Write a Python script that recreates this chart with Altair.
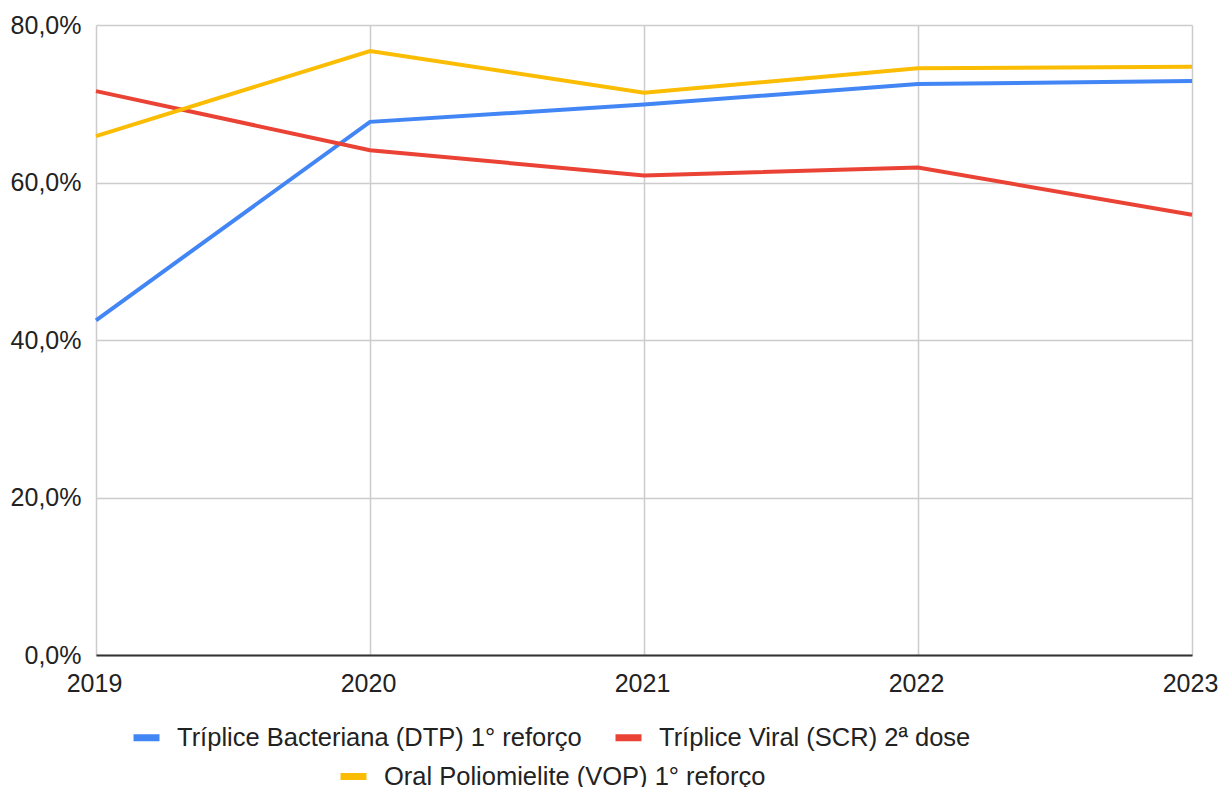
import altair as alt
import pandas as pd

years = [2019, 2020, 2021, 2022, 2023]
dtp = [42.5, 67.7, 69.9, 72.5, 72.9]
scr = [71.6, 64.1, 60.9, 61.9, 55.9]
vop = [65.9, 76.7, 71.4, 74.5, 74.7]
series_names = [
    "Tríplice Bacteriana (DTP) 1° reforço",
    "Tríplice Viral (SCR) 2ª dose",
    "Oral Poliomielite (VOP) 1° reforço",
]
colors = ["#4285F4", "#EA4335", "#FBBC04"]
y_ticks = [0, 20, 40, 60, 80]

rows = []
for name, vals in zip(series_names, [dtp, scr, vop]):
    for yr, v in zip(years, vals):
        rows.append({"ano": yr, "valor": v, "serie": name})
df = pd.DataFrame(rows)

FONT = "Liberation Sans"

x_enc = alt.X(
    "ano:Q",
    scale=alt.Scale(domain=[2019, 2023], nice=False, zero=False),
    axis=alt.Axis(values=years, format="d", title=None, grid=True, ticks=False,
                  domain=True, domainColor="#333333", domainWidth=2,
                  labelPadding=16, labelFlush=False, labelOverlap=False,
                  labelOffset=-2),
)
y_enc = alt.Y(
    "valor:Q",
    scale=alt.Scale(domain=[0, 80], nice=False),
    axis=alt.Axis(values=y_ticks, title=None, grid=True, ticks=False, domain=False,
                  labelPadding=15,
                  labelExpr="replace(format(datum.value, '.1f'), '.', ',') + '%'"),
)

def legend(x, y):
    return alt.Legend(
        orient="none", legendX=x, legendY=y, direction="horizontal", title=None,
        symbolType="stroke", symbolStrokeWidth=7, symbolSize=676,
        labelFont=FONT, labelFontSize=25.5, labelColor="#222222", labelOffset=14,
        columnPadding=19, labelLimit=1000,
    )

layer_a = alt.Chart(df).transform_filter(
    alt.FieldOneOfPredicate(field="serie", oneOf=series_names[:2])
).mark_line(strokeWidth=4).encode(
    x=x_enc, y=y_enc,
    color=alt.Color("serie:N", scale=alt.Scale(domain=series_names[:2], range=colors[:2]),
                    legend=legend(34, 696)),
    order=alt.Order("ano:Q"),
)

layer_b = alt.Chart(df).transform_filter(
    alt.FieldEqualPredicate(field="serie", equal=series_names[2])
).mark_line(strokeWidth=4).encode(
    x=x_enc, y=y_enc,
    color=alt.Color("serie:N", scale=alt.Scale(domain=series_names[2:], range=colors[2:]),
                    legend=legend(241, 735)),
    order=alt.Order("ano:Q"),
)

chart = alt.layer(layer_a, layer_b).resolve_scale(color="independent").properties(
    width=1096, height=630,
    padding={"left": 88, "top": 17, "right": 26, "bottom": 140},
    autosize=alt.AutoSizeParams(type="none"),
).configure_axis(
    labelFont=FONT, labelFontSize=25, labelColor="#222222",
    gridColor="#cccccc", gridWidth=1.5,
).configure_view(stroke=None)

chart.save("out.html", embed_options={"renderer": "svg", "actions": False})
